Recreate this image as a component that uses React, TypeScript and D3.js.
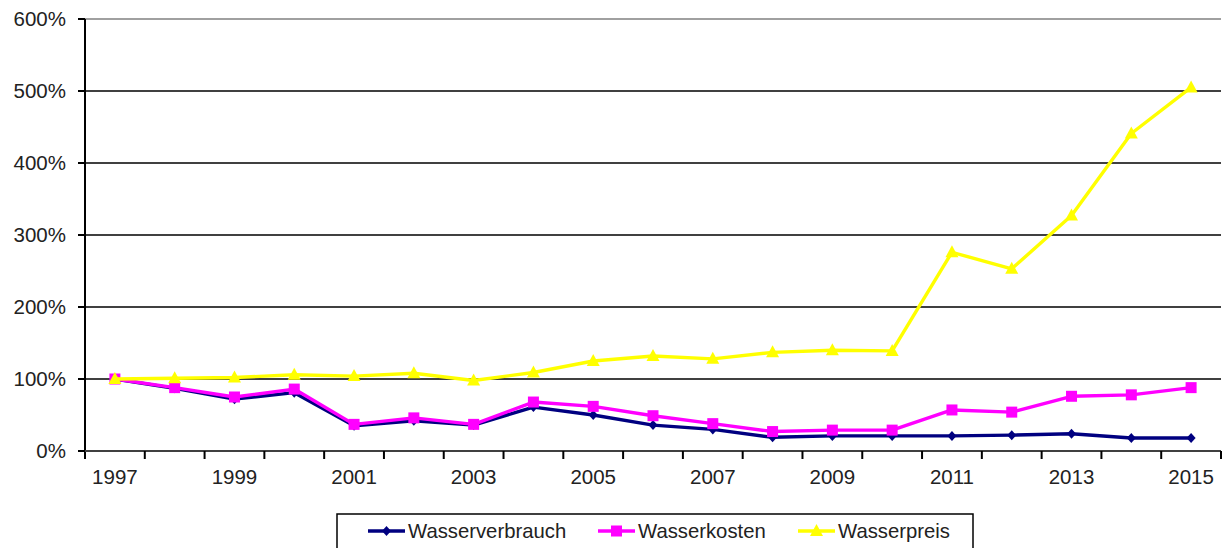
import React from "react";
import * as d3 from "d3";

const years = ["1997","1998","1999","2000","2001","2002","2003","2004","2005","2006","2007","2008","2009","2010","2011","2012","2013","2014","2015"];
const verbrauch = [100,87,72,81,35,42,36,61,50,36,30,19,21,21,21,22,24,18,18];
const kosten = [100,88,75,86,37,46,37,68,62,49,38,27,29,29,57,54,76,78,88];
const preis = [100,101,102,106,104,108,98,109,125,132,128,137,140,139,276,253,327,441,505];
const yTicks = [0,100,200,300,400,500,600];

const W = 1222, H = 548;
const left = 85, right = 1221, top = 19, bottom = 451;
const FONT = "'Liberation Sans', Arial, sans-serif";

export default function App() {
  const x = d3.scaleBand<string>().domain(years).range([left, right]);
  const y = d3.scaleLinear().domain([0, 600]).range([bottom, top]);
  const cx = (i: number) => (x(years[i]) as number) + x.bandwidth() / 2;
  const line = d3.line<number>().x((_, i) => cx(i)).y((v) => y(v));

  const series = [
    { name: "Wasserverbrauch", data: verbrauch, color: "#000080", marker: "diamond" },
    { name: "Wasserkosten", data: kosten, color: "#FF00FF", marker: "square" },
    { name: "Wasserpreis", data: preis, color: "#FFFF00", marker: "triangle" },
  ];

  const marker = (type: string, px: number, py: number, color: string, key: string) => {
    if (type === "square") return <rect key={key} x={px - 5.5} y={py - 5.5} width={11} height={11} fill={color} />;
    if (type === "diamond") return <path key={key} d={`M${px},${py - 5}L${px + 4.5},${py}L${px},${py + 5}L${px - 4.5},${py}Z`} fill={color} />;
    return <path key={key} d={`M${px},${py - 7}L${px + 6.5},${py + 5}L${px - 6.5},${py + 5}Z`} fill={color} />;
  };

  const legendItems = [
    { x0: 368, tx: 408 },
    { x0: 598, tx: 638 },
    { x0: 798, tx: 838 },
  ];

  return (
    <svg width={W} height={H} style={{ position: "absolute", left: 0, top: 0, background: "#fff" }} fontFamily={FONT}>
      {yTicks.map((t) => (
        <g key={t}>
          {t > 0 && (
            <line x1={left} x2={right} y1={y(t)} y2={y(t)} stroke={t === 600 ? "#a0a0a0" : "#404040"} strokeWidth={2} />
          )}
          <line x1={left - 7} x2={left} y1={y(t)} y2={y(t)} stroke="#000" strokeWidth={2} />
          <text x={66} y={y(t)} dy="0.36em" textAnchor="end" fontSize={20.5} fill="#222">{t}%</text>
        </g>
      ))}
      <line x1={left} x2={left} y1={top} y2={bottom + 8} stroke="#000" strokeWidth={2} />
      <line x1={left} x2={right} y1={bottom} y2={bottom} stroke="#404040" strokeWidth={2} />
      {years.map((yr, i) => (
        <g key={yr}>
          <line x1={(x(yr) as number) + x.bandwidth()} x2={(x(yr) as number) + x.bandwidth()} y1={bottom} y2={bottom + 8} stroke="#000" strokeWidth={2} />
          {i % 2 === 0 && (
            <text x={cx(i)} y={477} dy="0.36em" textAnchor="middle" fontSize={20.5} fill="#222">{yr}</text>
          )}
        </g>
      ))}
      {series.map((s) => (
        <g key={s.name}>
          <path d={line(s.data) || ""} fill="none" stroke={s.color} strokeWidth={3.4} strokeLinejoin="round" />
          {s.data.map((v, i) => marker(s.marker, cx(i), y(v), s.color, s.name + i))}
        </g>
      ))}
      <rect x={337} y={514} width={636} height={50} fill="#fff" stroke="#000" strokeWidth={1.5} />
      {series.map((s, k) => (
        <g key={s.name}>
          <line x1={legendItems[k].x0} x2={legendItems[k].x0 + 37} y1={531} y2={531} stroke={s.color} strokeWidth={3.4} />
          {marker(s.marker, legendItems[k].x0 + 18.5, 531, s.color, "lg" + k)}
          <text x={legendItems[k].tx} y={531} dy="0.36em" fontSize={20.3} fill="#222">{s.name}</text>
        </g>
      ))}
    </svg>
  );
}
